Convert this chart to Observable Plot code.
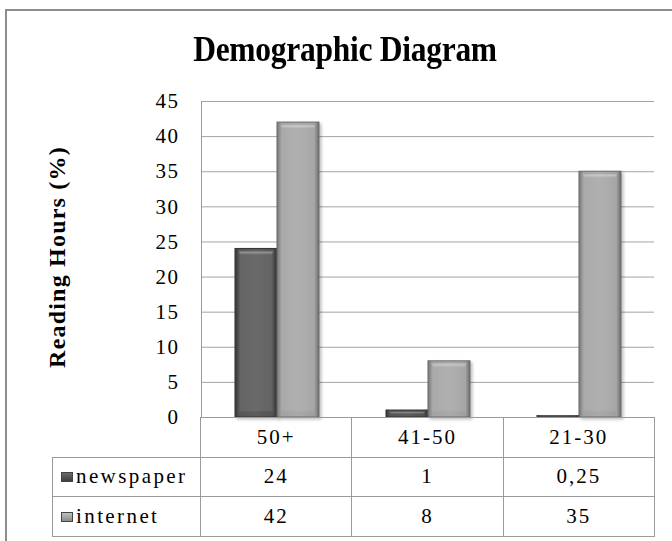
<!DOCTYPE html>
<html>
<head>
<meta charset="utf-8">
<script src="https://cdn.jsdelivr.net/npm/d3@7"></script>
<script src="https://cdn.jsdelivr.net/npm/@observablehq/plot@0.6"></script>
<style>
html, body { margin: 0; padding: 0; background: #fff; }
#wrap { position: relative; width: 672px; height: 541px; overflow: hidden; background: #fff;
  font-family: "Liberation Serif", "Times New Roman", serif; color: #000; }
#frame { position: absolute; left: 5px; top: 9px; width: 720px; height: 620px;
  border-left: 2px solid #8c8c8c; border-top: 2px solid #8c8c8c; box-sizing: border-box; }
#title { position: absolute; left: 0; top: 32px; width: 672px; padding-left: 18px; box-sizing: border-box;
  text-align: center; font-weight: bold; font-size: 35px; line-height: 35px; letter-spacing: -0.3px;
  transform: scaleX(0.9); transform-origin: 345px 50%; }
#ylabel { position: absolute; left: -93px; top: 243px; width: 300px; height: 28px; line-height: 28px;
  text-align: center; font-weight: bold; font-size: 24px; letter-spacing: 1.2px; transform: rotate(-90deg); }
#chart { position: absolute; left: 0; top: 80px; }
#chart svg text { font-family: "Liberation Serif", "Times New Roman", serif !important; letter-spacing: 1.5px; }
#tbl { position: absolute; left: 52px; top: 417px; width: 602px; border-collapse: collapse; table-layout: fixed;
  font-family: "Liberation Serif", "Times New Roman", serif; font-size: 21px; letter-spacing: 2px; }
#tbl td { font-family: "Liberation Serif", "Times New Roman", serif; border: 1px solid #9a9a9a; height: 38.5px; padding: 0;
  text-align: center; vertical-align: middle; white-space: nowrap; }
#tbl td.blank { border-top: none; border-left: none; }
#tbl td.leg { text-align: left; padding-left: 8px; letter-spacing: 2.4px; }
.sw { display: inline-block; width: 12px; height: 10px; margin-right: 3px; vertical-align: 1px; border: 1px solid #444; box-sizing: border-box; }
</style>
</head>
<body>
<div id="wrap">
  <div id="frame"></div>
  <div id="title"></div>
  <div id="ylabel"></div>
  <div id="chart"></div>
  <table id="tbl"></table>
</div>
<script>
// ---- data ----
const titleText = "Demographic Diagram";
const yLabel = "Reading Hours (%)";
const categories = ["50+", "41-50", "21-30"];
const series = ["newspaper", "internet"];
const newspaper = [24, 1, 0.25];
const newspaperLabels = ["24", "1", "0,25"];
const internet = [42, 8, 35];
const internetLabels = ["42", "8", "35"];
const yTicks = [0, 5, 10, 15, 20, 25, 30, 35, 40, 45];

const rows = categories.flatMap((c, i) => [
  {category: c, series: "newspaper", value: newspaper[i]},
  {category: c, series: "internet", value: internet[i]}
]);

document.getElementById("title").textContent = titleText;
document.getElementById("ylabel").textContent = yLabel;

const styles = {
  newspaper: {fill: "url(#gNews)", stroke: "#333333"},
  internet: {fill: "url(#gNet)", stroke: "#6a6a6a"}
};

const chart = Plot.plot({
  width: 672,
  height: 461,
  marginTop: 21,
  marginBottom: 124,
  marginLeft: 200,
  marginRight: 18,
  style: {fontFamily: "'Liberation Serif', 'Times New Roman', serif", fontSize: "21px", color: "#000", background: "transparent", overflow: "visible"},
  fx: {domain: categories, padding: 0, axis: null},
  x: {domain: series, paddingInner: 0, paddingOuter: 0.76, axis: null},
  y: {domain: [0, 45], axis: null},
  marks: [
    Plot.gridY(yTicks, {stroke: "#a3a3a3", strokeOpacity: 1, strokeWidth: 1}),
    Plot.frame({anchor: "left", stroke: "#9a9a9a", facetAnchor: "left"}),
    Plot.axisY(yTicks, {tickSize: 0, tickPadding: 22, label: null, fontSize: 21, facetAnchor: "left"}),
    ...series.map(s => Plot.barY(rows.filter(d => d.series === s), {
      fx: "category", x: "series", y: "value",
      fill: styles[s].fill, stroke: styles[s].stroke, strokeWidth: 1
    }))
  ]
});

// gradients & bevel filter
const defs = `
<defs>
  <linearGradient id="gNews" x1="0" x2="1" y1="0" y2="0">
    <stop offset="0" stop-color="#383838"/>
    <stop offset="0.1" stop-color="#555555"/>
    <stop offset="0.5" stop-color="#5c5c5c"/>
    <stop offset="0.9" stop-color="#535353"/>
    <stop offset="1" stop-color="#333333"/>
  </linearGradient>
  <linearGradient id="gNet" x1="0" x2="1" y1="0" y2="0">
    <stop offset="0" stop-color="#787878"/>
    <stop offset="0.1" stop-color="#a2a2a2"/>
    <stop offset="0.5" stop-color="#a9a9a9"/>
    <stop offset="0.9" stop-color="#9f9f9f"/>
    <stop offset="1" stop-color="#6c6c6c"/>
  </linearGradient>
  <filter id="bevel" x="-20%" y="-5%" width="140%" height="115%">
    <feGaussianBlur in="SourceAlpha" stdDeviation="2.5" result="blur"/>
    <feSpecularLighting in="blur" surfaceScale="5" specularConstant="0.6" specularExponent="25" lighting-color="#ffffff" result="spec">
      <feDistantLight azimuth="270" elevation="50"/>
    </feSpecularLighting>
    <feComposite in="spec" in2="SourceAlpha" operator="in" result="specIn"/>
    <feComposite in="SourceGraphic" in2="specIn" operator="arithmetic" k1="0" k2="1" k3="0.3" k4="0" result="lit"/>
    <feDropShadow dx="2" dy="2" stdDeviation="1.5" flood-color="#000" flood-opacity="0.25"/>
  </filter>
</defs>`;
chart.insertAdjacentHTML("afterbegin", defs);
d3.select(chart).selectAll("g[aria-label='bar'] rect").attr("filter", "url(#bevel)");
document.getElementById("chart").appendChild(chart);

// data table below the plot
const tbl = d3.select("#tbl");
const cg = tbl.append("colgroup");
cg.append("col").style("width", "148px");
categories.forEach(() => cg.append("col").style("width", "151.33px"));
const r0 = tbl.append("tr");
r0.append("td").attr("class", "blank");
categories.forEach(c => r0.append("td").text(c));
[["newspaper", newspaperLabels, "linear-gradient(#6a6a6a,#3e3e3e)"],
 ["internet", internetLabels, "linear-gradient(#c0c0c0,#8a8a8a)"]].forEach(([name, labels, bg]) => {
  const r = tbl.append("tr");
  const lc = r.append("td").attr("class", "leg");
  lc.append("span").attr("class", "sw").style("background", bg);
  lc.append("span").text(name);
  labels.forEach(v => r.append("td").text(v));
});
</script>
</body>
</html>
